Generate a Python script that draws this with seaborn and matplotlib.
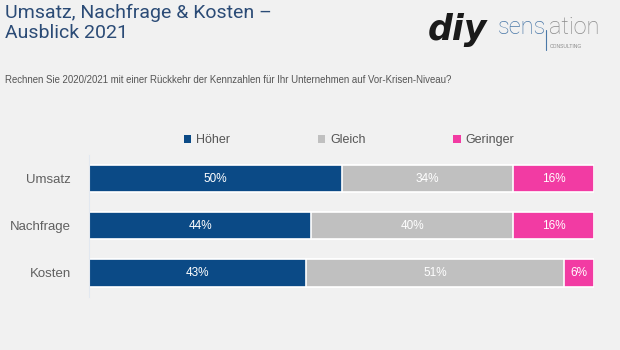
import matplotlib
matplotlib.use("Agg")
import matplotlib.pyplot as plt
from matplotlib.patches import Patch
from matplotlib.lines import Line2D
import pandas as pd
import seaborn as sns

categories = ["Umsatz", "Nachfrage", "Kosten"]
hoeher = [50, 44, 43]
gleich = [34, 40, 51]
geringer = [16, 16, 6]
series_names = ["Höher", "Gleich", "Geringer"]
colors = ["#0b4a86", "#c0c0c0", "#f23ba3"]

BG = "#f1f1f1"

sns.set_theme(style="white")
plt.rcParams["font.family"] = ["Liberation Sans", "DejaVu Sans"]

df = pd.DataFrame({"cat": categories, "Höher": hoeher, "Gleich": gleich, "Geringer": geringer})
df["c_hoeher"] = df["Höher"]
df["c_gleich"] = df["Höher"] + df["Gleich"]
df["c_geringer"] = df["c_gleich"] + df["Geringer"]

fig = plt.figure(figsize=(6.2, 3.5), dpi=100, facecolor=BG)
ax = fig.add_axes([89 / 620, 1 - 296.5 / 350, 505 / 620, 141.5 / 350])
ax.set_facecolor(BG)

# stacked bars: draw cumulative totals back to front
for col, color in zip(["c_geringer", "c_gleich", "c_hoeher"], colors[::-1]):
    sns.barplot(data=df, x=col, y="cat", color=color, orient="h", width=0.58,
                edgecolor="white", linewidth=1.2, saturation=1, ax=ax)

# value labels
for i, row in df.iterrows():
    starts = [0, row["c_hoeher"], row["c_gleich"]]
    for s, name in zip(starts, series_names):
        v = row[name]
        ax.text(s + v / 2, i, f"{v}%", ha="center", va="center",
                color="white", fontsize=8.5)

ax.set_xlim(0, 100)
ax.set_ylim(2.5, -0.5)
ax.set_xlabel("")
ax.set_ylabel("")
ax.set_xticks([])
ax.tick_params(axis="y", length=0, pad=13, labelsize=9.5, labelcolor="#606060")
for side in ["top", "right", "bottom"]:
    ax.spines[side].set_visible(False)
ax.spines["left"].set_color("#e2e8f0")
ax.spines["left"].set_linewidth(0.8)

# legend
handles = [Patch(facecolor=c, edgecolor="none") for c in colors]
fig.legend(handles, series_names, loc="center", bbox_to_anchor=(0.563, 1 - 140 / 350),
           ncol=3, frameon=False, fontsize=9, handlelength=0.6, handleheight=0.6,
           handletextpad=0.4, columnspacing=7.0, labelcolor="#555555")

# title and question
fig.text(5 / 620, 1 - 4 / 350, "Umsatz, Nachfrage & Kosten –\nAusblick 2021",
         ha="left", va="top", fontsize=14, color="#2b4b76", linespacing=1.15,
         family=["Roboto", "DejaVu Sans"], fontweight="normal")
fig.text(5 / 620, 1 - 80 / 350,
         "Rechnen Sie 2020/2021 mit einer Rückkehr der Kennzahlen für Ihr Unternehmen auf Vor-Krisen-Niveau?",
         ha="left", va="center", fontsize=6.9, color="#555555")

# logo
fig.text(428 / 620, 1 - 30 / 350, "diy", ha="left", va="center", fontsize=25,
         fontweight="heavy", fontstyle="italic", color="#1a1a1a",
         family=["DejaVu Sans"])
fig.text(498 / 620, 1 - 28 / 350, "sens", ha="left", va="center", fontsize=17,
         color="#4a78a8", family=["Roboto", "DejaVu Sans"], fontweight="light")
fig.add_artist(Line2D([546 / 620, 546 / 620], [1 - 30 / 350, 1 - 50 / 350],
                      transform=fig.transFigure, color="#4a78a8", lw=0.8))
fig.text(549 / 620, 1 - 28 / 350, "ation", ha="left", va="center", fontsize=17,
         color="#8a8a8a", family=["Roboto", "DejaVu Sans"], fontweight="light")
fig.text(550 / 620, 1 - 47 / 350, "CONSULTING", ha="left", va="center", fontsize=3.6,
         color="#8a8a8a")

fig.savefig("out.png", dpi=100, facecolor=BG)
